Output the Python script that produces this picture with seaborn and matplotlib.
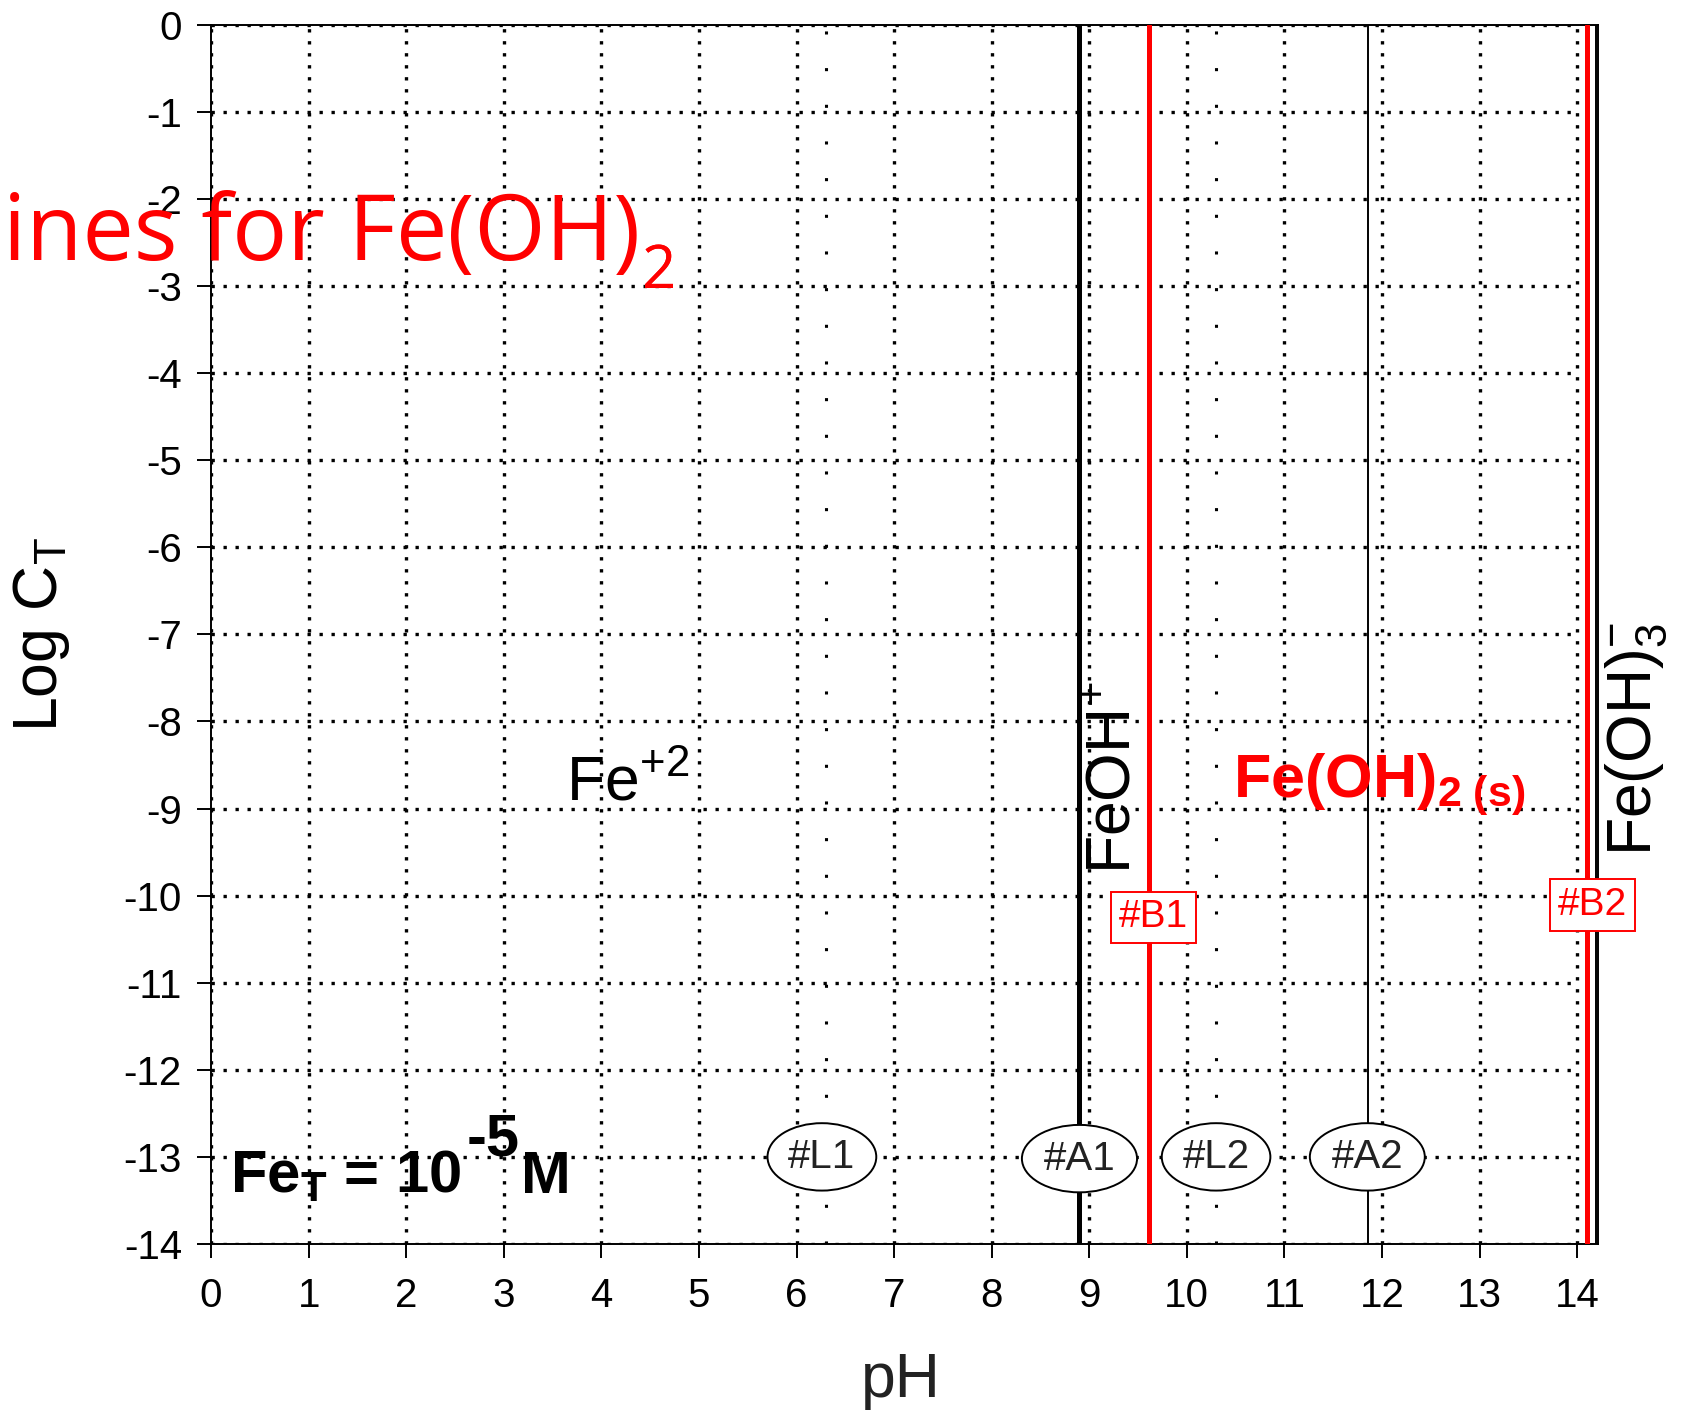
import matplotlib
matplotlib.use("Agg")
import matplotlib.pyplot as plt
import seaborn as sns

# --- data -------------------------------------------------------------
ph_ticks = list(range(0, 15))
log_ticks = list(range(-14, 1))
log_span = [-14, 0]

# boundary lines (pH), with their look
thick_black_ph = [8.9]
thin_black_ph = [11.86, 14.19]
red_ph = [9.61, 14.1]
sparse_dot_ph = [6.3, 10.3]

# region labels: (text, pH, logC, rotation)
species_labels = [
    ("Fe$^{+2}$", 4.27, -8.9, 0),
    ("FeOH$^{+}$", 9.25, -8.65, 90),
    ("Fe(OH)$_3^{-}$", 14.6, -8.2, 90),
]
solid_label = (r"$\mathbf{Fe(OH)_{2\ (s)}}$", 10.47, -8.87)

boxed_labels = [("#B1", 9.66, -10.25), ("#B2", 14.16, -10.11)]
oval_labels = [("#L1", 6.26, -13.0), ("#A1", 8.9, -13.02),
               ("#L2", 10.3, -13.0), ("#A2", 11.85, -13.0)]

sns.set_theme(style="white")
plt.rcParams["font.family"] = ["Liberation Sans", "DejaVu Sans"]
plt.rcParams["axes.unicode_minus"] = False
plt.rcParams["mathtext.fontset"] = "custom"
plt.rcParams["mathtext.rm"] = "Liberation Sans"
plt.rcParams["mathtext.it"] = "Liberation Sans:italic"
plt.rcParams["mathtext.bf"] = "Liberation Sans:bold"

fig = plt.figure(figsize=(16.82, 14.12), dpi=100)
ax = fig.add_axes([0.1255, 0.119, 0.8246, 0.8635])

# dotted grid (only up to pH 14)
dot = (0, (1, 2.6))
ax.hlines(log_ticks, 0, 14, colors="black", linestyles=dot, lw=2.4, zorder=1)
ax.vlines(ph_ticks, -14, 0, colors="black", linestyles=dot, lw=2.4, zorder=1)


def vline(x, color, lw, ls="-", z=3):
    sns.lineplot(x=[x, x], y=log_span, estimator=None, color=color, lw=lw,
                 ax=ax, zorder=z)
    ax.lines[-1].set_linestyle(ls)
    ax.lines[-1].set_dash_capstyle("butt")


for x in sparse_dot_ph:
    vline(x, "black", 2.2, (0, (1, 11)), z=2)
for x in thick_black_ph:
    vline(x, "black", 3.6)
for x in thin_black_ph:
    vline(x, "black", 1.4)
for x in red_ph:
    vline(x, "#ff0000", 3.6)

ax.set_xlim(0, 14.215)
ax.set_ylim(-14, 0)
ax.set_xticks(ph_ticks)
ax.set_yticks(log_ticks)
ax.tick_params(axis="both", direction="out", length=10, width=1.4,
               colors="black", labelsize=29, bottom=True, left=True)
ax.tick_params(axis="x", pad=14)
ax.tick_params(axis="y", pad=11)
for s in ax.spines.values():
    s.set_color("black")
    s.set_linewidth(1.4)

ax.set_xlabel("pH", fontsize=45, color="#222222")
ax.set_ylabel("Log C$_\\mathrm{T}$", fontsize=45, color="black")
ax.xaxis.set_label_coords(0.497, -0.088)
ax.yaxis.set_label_coords(-0.100, 0.5)

# species labels
for txt, x, y, rot in species_labels:
    ax.text(x, y, txt, fontsize=45, rotation=rot, color="black",
            ha="center", va="baseline" if rot == 0 else "center", zorder=5)
ax.text(solid_label[1], solid_label[2], solid_label[0], fontsize=44,
        color="#ff0000", ha="left", va="baseline", zorder=5)

for txt, x, y in boxed_labels:
    ax.text(x, y, txt, fontsize=28, color="#ff0000", ha="center", va="center",
            zorder=6, bbox=dict(boxstyle="square,pad=0.2", fc="white",
                                ec="#ff0000", lw=1.4))
for txt, x, y in oval_labels:
    ax.text(x, y, txt, fontsize=29, color="#222222", ha="center", va="center",
            zorder=6, bbox=dict(boxstyle="ellipse,pad=0.12", fc="white",
                                ec="black", lw=1.4))

# total iron note
ax.text(0.19, -13.415, r"Fe$_\mathbf{T}$ = 10", fontsize=43, fontweight="bold",
        color="black", ha="left", va="baseline", zorder=5)
ax.text(2.62, -12.98, "-5", fontsize=43, fontweight="bold", color="black",
        ha="left", va="baseline", zorder=5)
ax.text(3.18, -13.415, "M", fontsize=43, fontweight="bold", color="black",
        ha="left", va="baseline", zorder=5)

# slide title (starts at the left edge as in the source)
title = fig.text(0.002, 1 - 260 / 1412, "ines for Fe(OH)", fontsize=66,
                 family=["Open Sans", "DejaVu Sans"], color="#ff0000",
                 ha="left", va="baseline", zorder=10)
fig.add_artist(ax.annotate("2", xy=(1, 0), xycoords=title, xytext=(1, -4),
                           textcoords="offset points", fontsize=43,
                           family=["Open Sans", "DejaVu Sans"],
                           color="#ff0000", ha="left", va="baseline",
                           annotation_clip=False, zorder=10))

fig.savefig("out.png", dpi=100)
plt.close(fig)
